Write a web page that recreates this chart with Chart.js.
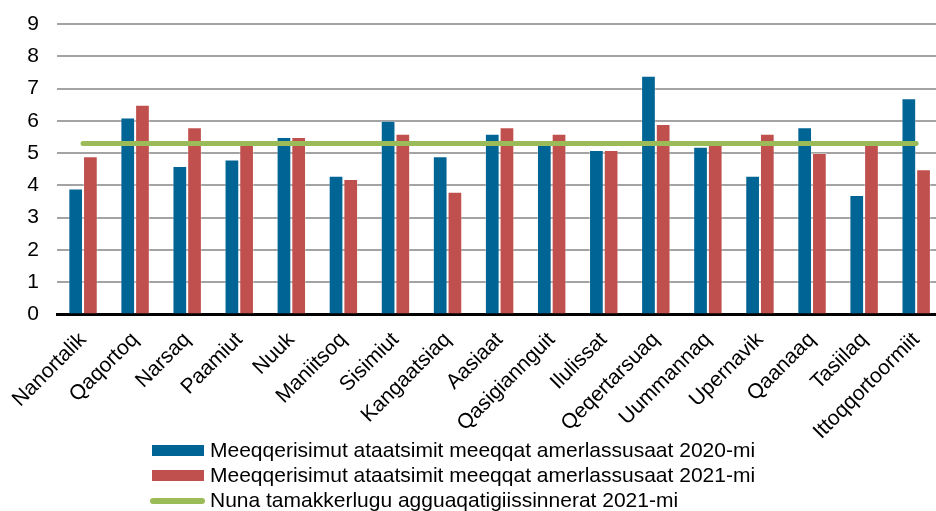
<!DOCTYPE html>
<html>
<head>
<meta charset="utf-8">
<script src="https://cdn.jsdelivr.net/npm/chart.js@4"></script>
<style>
  html, body { margin:0; padding:0; overflow:hidden; background:#fff; width:936px; height:511px; }
  #wrap { position:absolute; left:0; top:0; width:947px; height:511px; }
  #legend { position:absolute; left:0; top:0; width:936px; height:511px; pointer-events:none;
            font-family:"Liberation Sans", Arial, sans-serif; font-size:21px; color:#000; }
  .lrow { position:absolute; left:0; height:25px; line-height:25px; white-space:nowrap; }
  .lbox { position:absolute; left:152px; width:52px; height:11px; top:8px; }
  .lline { position:absolute; left:150px; width:55px; height:6px; top:11px; border-radius:3px; }
  .ltext { position:absolute; left:210px; top:0; }
</style>
</head>
<body>
<div id="wrap"><canvas id="c"></canvas></div>
<div id="legend"></div>
<script>
const categories = ["Nanortalik","Qaqortoq","Narsaq","Paamiut","Nuuk","Maniitsoq","Sisimiut","Kangaatsiaq","Aasiaat","Qasigiannguit","Ilulissat","Qeqertarsuaq","Uummannaq","Upernavik","Qaanaaq","Tasiilaq","Ittoqqortoormiit"];
const values2020 = [3.9, 6.1, 4.6, 4.8, 5.5, 4.3, 6.0, 4.9, 5.6, 5.4, 5.1, 7.4, 5.2, 4.3, 5.8, 3.7, 6.7];
const values2021 = [4.9, 6.5, 5.8, 5.3, 5.5, 4.2, 5.6, 3.8, 5.8, 5.6, 5.1, 5.9, 5.3, 5.6, 5.0, 5.4, 4.5];
const nationalAvg2021 = [5.3, 5.3, 5.3, 5.3, 5.3, 5.3, 5.3, 5.3, 5.3, 5.3, 5.3, 5.3, 5.3, 5.3, 5.3, 5.3, 5.3];
const seriesLabels = [
  "Meeqqerisimut ataatsimit meeqqat amerlassusaat 2020-mi",
  "Meeqqerisimut ataatsimit meeqqat amerlassusaat 2021-mi",
  "Nuna tamakkerlugu agguaqatigiissinnerat 2021-mi"
];
const yTicks = [0,1,2,3,4,5,6,7,8,9];

const BLUE = "#006494", RED = "#C0504D", GREEN = "#9BBB59";
const FONT = "'Liberation Sans', Arial, sans-serif";

new Chart(document.getElementById("c"), {
  type: "bar",
  data: {
    labels: categories,
    datasets: [
      { type:"line", label: seriesLabels[2], data: nationalAvg2021, borderColor: GREEN, backgroundColor: GREEN,
        borderWidth: 5, pointRadius: 0, borderCapStyle: "round", fill: false, order: 0, tension: 0 },
      { label: seriesLabels[0], data: values2020, backgroundColor: BLUE, borderColor: "rgba(255,255,255,0.35)", borderWidth: 1, order: 1,
        categoryPercentage: 0.565, barPercentage: 1.0 },
      { label: seriesLabels[1], data: values2021, backgroundColor: RED, borderColor: "rgba(255,255,255,0.35)", borderWidth: 1, order: 1,
        categoryPercentage: 0.565, barPercentage: 1.0 }
    ]
  },
  options: {
    responsive: true,
    maintainAspectRatio: false,
    animation: false,
    devicePixelRatio: 1,
    layout: { padding: { top: 24, right: 0, left: 0, bottom: 0 } },
    plugins: { legend: { display: false }, tooltip: { enabled: false } },
    scales: {
      x: {
        grid: { display: true, drawOnChartArea: false, drawTicks: false },
        border: { display: true, color: "#000", width: 3 },
        ticks: { autoSkip: false, maxRotation: 45, minRotation: 45, color: "#000", padding: 13,
                 font: { family: FONT, size: 21 } },
        afterFit: (s) => { s.height = 511 - 314.5; }
      },
      y: {
        min: 0, max: 9,
        afterBuildTicks: (s) => { s.ticks = yTicks.map(v => ({ value: v })); },
        grid: { color: "#A3A3A3", lineWidth: 2, drawTicks: false },
        border: { display: false },
        ticks: { color: "#000", padding: 18, font: { family: FONT, size: 21 } },
        afterFit: (s) => { s.width = 57; s.paddingTop = 10; s.paddingBottom = 10; }
      }
    }
  }
});

// HTML legend
const legend = document.getElementById("legend");
const legendItems = [
  { label: seriesLabels[0], color: BLUE, kind: "box" },
  { label: seriesLabels[1], color: RED, kind: "box" },
  { label: seriesLabels[2], color: GREEN, kind: "line" }
];
const rowTops = [437, 462, 487];
legendItems.forEach((it, i) => {
  const row = document.createElement("div");
  row.className = "lrow";
  row.style.top = rowTops[i] + "px";
  const mark = document.createElement("div");
  mark.className = it.kind === "box" ? "lbox" : "lline";
  mark.style.background = it.color;
  const txt = document.createElement("span");
  txt.className = "ltext";
  txt.textContent = it.label;
  row.appendChild(mark); row.appendChild(txt);
  legend.appendChild(row);
});
</script>
</body>
</html>
